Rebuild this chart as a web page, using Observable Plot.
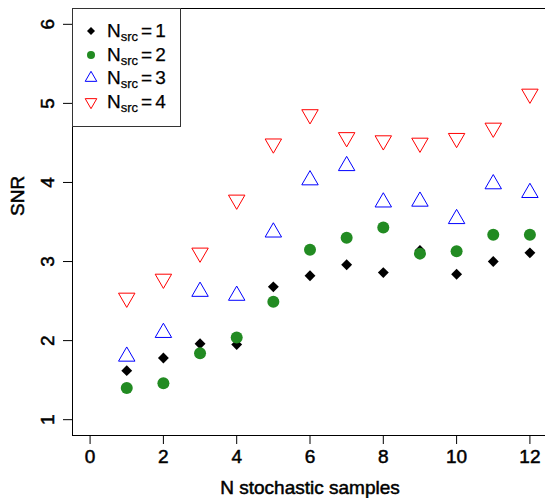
<!DOCTYPE html>
<html>
<head>
<meta charset="utf-8">
<script src="https://cdn.jsdelivr.net/npm/d3@7"></script>
<script src="https://cdn.jsdelivr.net/npm/@observablehq/plot@0.6"></script>
<style>
  html, body { margin: 0; padding: 0; background: #fff; }
  #wrap { position: relative; width: 545px; height: 498px; overflow: hidden; font-family: "Liberation Sans", Arial, sans-serif; }
  #wrap svg text { stroke: #000; stroke-width: 0.5px; paint-order: stroke; }
  #legend { position: absolute; left: 72px; top: 8px; width: 107px; height: 117px; border: 1px solid #333; background: #fff; box-sizing: content-box; }
  .row { position: absolute; left: 0; height: 24px; display: flex; align-items: center; }
  .row svg { margin-left: 10px; }
  .row span.t { margin-left: 8px; font-size: 19px; color: #000; white-space: nowrap; -webkit-text-stroke: 0.25px #000; }
  .row sub { font-size: 13px; vertical-align: -4px; line-height: 0; }
  .row .eq { margin: 0 3px; }
</style>
</head>
<body>
<div id="wrap"></div>
<script>
const samples = [1, 2, 3, 4, 5, 6, 7, 8, 9, 10, 11, 12];
const snr1 = [1.62, 1.78, 1.96, 1.95, 2.68, 2.82, 2.96, 2.86, 3.14, 2.84, 3.00, 3.11];
const snr2 = [1.40, 1.46, 1.84, 2.04, 2.49, 3.15, 3.30, 3.43, 3.10, 3.13, 3.34, 3.34];
const snr3 = [1.80, 2.10, 2.62, 2.57, 3.37, 4.03, 4.21, 3.75, 3.76, 3.54, 3.98, 3.87];
const snr4 = [2.54, 2.78, 3.11, 3.78, 4.49, 4.86, 4.57, 4.53, 4.50, 4.56, 4.69, 5.12];
const nsrc = [1, 2, 3, 4];
const xTicks = [0, 2, 4, 6, 8, 10, 12];
const yTicks = [1, 2, 3, 4, 5, 6];
const xLabel = "N stochastic samples";
const yLabel = "SNR";

const toRows = (vals) => samples.map((s, i) => ({x: s, y: vals[i]}));
const d1 = toRows(snr1), d2 = toRows(snr2), d3r = toRows(snr3), d4 = toRows(snr4);

const chart = Plot.plot({
  width: 545,
  height: 498,
  marginLeft: 72,
  marginRight: -2,
  marginTop: 8,
  marginBottom: 63,
  style: {fontFamily: "Liberation Sans, Arial, sans-serif", fontSize: "19px", color: "#000", background: "#fff"},
  x: {domain: [-0.48, 12.48]},
  y: {domain: [0.8, 6.2]},
  marks: [
    Plot.frame({stroke: "#000"}),
    Plot.axisX({ticks: xTicks, tickSize: 9, tickPadding: 5, tickFormat: d => String(d), fontSize: 19,
      label: xLabel, labelAnchor: "center", labelArrow: "none", labelOffset: 58}),
    Plot.axisY({ticks: yTicks, tickSize: 9, tickPadding: 10, tickRotate: -90, tickFormat: d => String(d), fontSize: 19,
      label: null}),
    Plot.text([yLabel], {text: d => d, frameAnchor: "left", dx: -55, dy: -6, rotate: -90, fontSize: 19, fill: "#000"}),
    Plot.dot(d1, {x: "x", y: "y", symbol: "diamond2", fill: "#000", r: 4.9}),
    Plot.dot(d2, {x: "x", y: "y", symbol: "circle", fill: "#228B22", r: 6}),
    Plot.dot(d3r, {x: "x", y: "y", symbol: "triangle", fill: "none", stroke: "#0000FF", strokeWidth: 1, r: 6.1}),
    Plot.dot(d4, {x: "x", y: "y", symbol: "triangle", fill: "none", stroke: "#FF0000", strokeWidth: 1, r: 6.1, rotate: 180})
  ]
});

const wrap = document.getElementById("wrap");
wrap.appendChild(chart);

// Legend overlay
const legend = document.createElement("div");
legend.id = "legend";
wrap.appendChild(legend);
const legSym = [
  {type: d3.symbolDiamond2, fill: "#000", stroke: "none", r: 3.6, rot: 0},
  {type: d3.symbolCircle, fill: "#228B22", stroke: "none", r: 4, rot: 0},
  {type: d3.symbolTriangle, fill: "none", stroke: "#0000FF", r: 4.3, rot: 0},
  {type: d3.symbolTriangle, fill: "none", stroke: "#FF0000", r: 4.3, rot: 180}
];
nsrc.forEach((n, i) => {
  const row = document.createElement("div");
  row.className = "row";
  row.style.top = (10 + i * 23.6) + "px";
  const s = legSym[i];
  const path = d3.symbol(s.type, Math.PI * s.r * s.r)();
  row.innerHTML = `<svg width="16" height="16" viewBox="-8 -8 16 16"><path d="${path}" fill="${s.fill}" stroke="${s.stroke}" stroke-width="1" transform="rotate(${s.rot})"/></svg><span class="t">N<sub>src</sub><span class="eq">=</span>${n}</span>`;
  legend.appendChild(row);
});
</script>
</body>
</html>
